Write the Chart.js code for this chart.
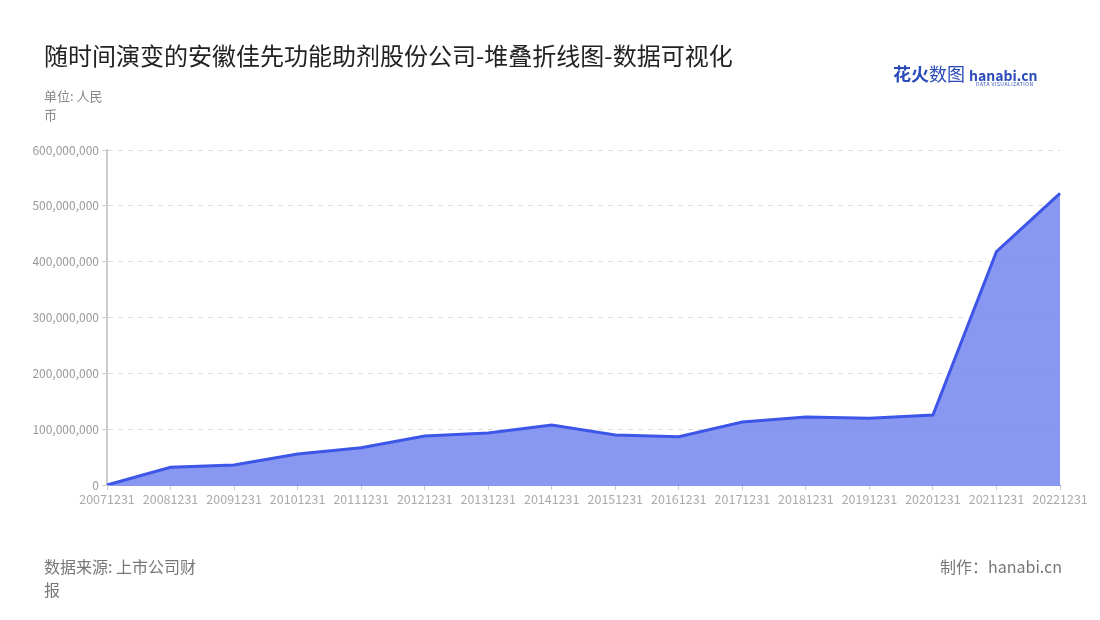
<!DOCTYPE html>
<html>
<head>
<meta charset="utf-8">
<script src="https://cdn.jsdelivr.net/npm/chart.js@4/dist/chart.umd.min.js"></script>
<style>
  body { margin: 0; background: #fff; font-family: "Noto Sans CJK SC", "Noto Sans", sans-serif; }
  #wrap { position: relative; width: 1100px; height: 620px; }
  #title { position: absolute; left: 44px; top: 37px; font-size: 24px; color: #222; }
  #unit { position: absolute; left: 44px; top: 86px; width: 70px; font-size: 13px; line-height: 19px; color: #888; }
  #source { position: absolute; left: 44px; top: 555px; width: 158px; font-size: 16px; line-height: 23px; color: #777; }
  #maker { position: absolute; right: 38px; top: 555px; font-size: 16px; line-height: 23px; color: #777; }
  #logo { position: absolute; left: 893px; top: 60px; font-size: 18px; font-weight: bold; color: #2a4bb8; }
  #logo span { font-size: 14px; }
  #logo small { position: absolute; left: 83px; top: 20px; font-size: 5px; letter-spacing: 0.5px; font-weight: normal; }
</style>
</head>
<body>
<div id="wrap">
  <canvas id="lineChart" width="1100" height="620"></canvas>
  <div id="title">随时间演变的安徽佳先功能助剂股份公司-堆叠折线图-数据可视化</div>
  <div id="logo">花火<span style="font-weight:normal;font-size:18px">数图</span> <span>hanabi.cn</span><small>DATA VISUALIZATION</small></div>
  <div id="unit">单位: 人民币</div>
  <div id="source">数据来源: 上市公司财报</div>
  <div id="maker">制作：hanabi.cn</div>
</div>
<script>
// report dates (x axis)
const dates = ["20071231", "20081231", "20091231", "20101231", "20111231", "20121231",
  "20131231", "20141231", "20151231", "20161231", "20171231", "20181231",
  "20191231", "20201231", "20211231", "20221231"];
// values in RMB
const values = [0, 31700000, 35800000, 55500000, 66900000, 87800000,
  93100000, 107500000, 89600000, 86600000, 112800000, 121800000,
  119400000, 125400000, 417900000, 522500000];
// y axis
const yMax = 600000000;
const yStep = 100000000;

const ctx = document.getElementById("lineChart");

new Chart(ctx, {
  type: "line",
  data: {
    labels: dates,
    datasets: [
      {
        label: "安徽佳先功能助剂股份公司",
        data: values,
        borderColor: "#3d56e8",
        backgroundColor: "rgba(120,138,238,0.88)",
        borderWidth: 3,
        fill: "origin",
        tension: 0,
        pointRadius: 0,
      },
    ],
  },
  options: {
    responsive: false,
    animation: false,
    layout: { padding: { left: 0, right: 40, top: 150, bottom: 105 } },
    plugins: { legend: { display: false }, tooltip: { enabled: false } },
    scales: {
      x: {
        offset: false,
        grid: { drawOnChartArea: false, color: "#ccc", tickLength: 5 },
        border: { color: "#8796f0", width: 1 },
        ticks: {
          color: "#aaa",
          font: { family: "Noto Sans CJK SC", size: 12.5 },
          maxRotation: 0,
          autoSkip: false,
          padding: 2,
        },
        afterFit: function (scale) { scale.height = 30; },
      },
      y: {
        min: 0,
        max: yMax,
        grid: {
          color: "#dddddd",
          tickLength: 5,
          tickColor: "#ccc",
          tickBorderDash: [],
        },
        border: { color: "#ccc", width: 2, dash: [5, 5] },
        ticks: {
          stepSize: yStep,
          color: "#999",
          font: { family: "Noto Sans CJK SC", size: 12 },
          padding: 3,
          callback: function (v) { return v.toLocaleString("en-US"); },
        },
        afterFit: function (scale) { scale.width = 107; },
      },
    },
  },
});
</script>
</body>
</html>
